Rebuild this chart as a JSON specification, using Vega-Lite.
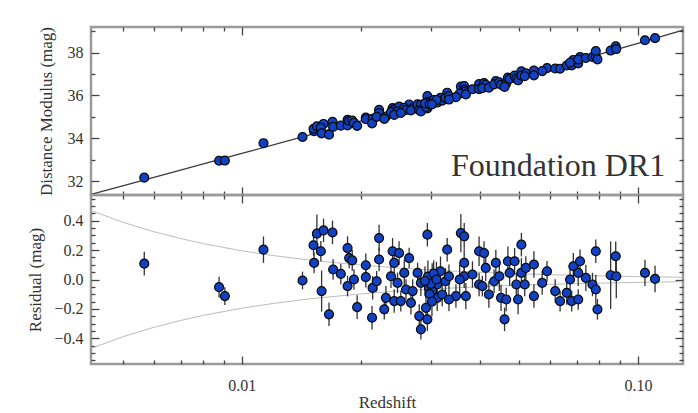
{
  "$schema": "https://vega.github.io/schema/vega-lite/v6.json",
  "padding": {"left": 25, "top": 25, "right": 14, "bottom": 2},
  "spacing": 0,
  "bounds": "flush",
  "datasets": {
    "sn": [
      {"z":0.00567,"mu":32.16,"r":0.108,"e":0.08},
      {"z":0.00876,"mu":32.95,"r":-0.052,"e":0.07},
      {"z":0.00906,"mu":32.96,"r":-0.113,"e":0.06},
      {"z":0.01134,"mu":33.77,"r":0.203,"e":0.09},
      {"z":0.01423,"mu":34.06,"r":-0.007,"e":0.06},
      {"z":0.01522,"mu":34.33,"r":0.113,"e":0.07},
      {"z":0.01517,"mu":34.44,"r":0.233,"e":0.07},
      {"z":0.01547,"mu":34.56,"r":0.312,"e":0.13},
      {"z":0.01608,"mu":34.67,"r":0.334,"e":0.08},
      {"z":0.01583,"mu":34.49,"r":0.192,"e":0.07},
      {"z":0.01694,"mu":34.77,"r":0.32,"e":0.08},
      {"z":0.0159,"mu":34.23,"r":-0.079,"e":0.14},
      {"z":0.0166,"mu":34.17,"r":-0.237,"e":0.08},
      {"z":0.017,"mu":34.53,"r":0.068,"e":0.07},
      {"z":0.01778,"mu":34.59,"r":0.038,"e":0.07},
      {"z":0.01849,"mu":34.60,"r":-0.045,"e":0.07},
      {"z":0.01849,"mu":34.86,"r":0.214,"e":0.08},
      {"z":0.01866,"mu":34.81,"r":0.146,"e":0.07},
      {"z":0.019,"mu":34.83,"r":0.13,"e":0.07},
      {"z":0.01919,"mu":34.72,"r":0.0,"e":0.07},
      {"z":0.01955,"mu":34.58,"r":-0.188,"e":0.08},
      {"z":0.02056,"mu":34.97,"r":0.097,"e":0.08},
      {"z":0.02056,"mu":34.89,"r":0.016,"e":0.07},
      {"z":0.02139,"mu":34.91,"r":-0.057,"e":0.08},
      {"z":0.02132,"mu":34.70,"r":-0.26,"e":0.08},
      {"z":0.02221,"mu":35.33,"r":0.282,"e":0.09},
      {"z":0.02221,"mu":35.18,"r":0.136,"e":0.08},
      {"z":0.0219,"mu":35.00,"r":-0.012,"e":0.07},
      {"z":0.02311,"mu":35.01,"r":-0.125,"e":0.08},
      {"z":0.02289,"mu":34.91,"r":-0.203,"e":0.07},
      {"z":0.02402,"mu":35.41,"r":0.192,"e":0.09},
      {"z":0.02425,"mu":35.35,"r":0.113,"e":0.07},
      {"z":0.02495,"mu":35.48,"r":0.18,"e":0.08},
      {"z":0.02645,"mu":35.58,"r":0.146,"e":0.07},
      {"z":0.0238,"mu":35.22,"r":0.022,"e":0.08},
      {"z":0.02472,"mu":35.26,"r":-0.023,"e":0.07},
      {"z":0.02425,"mu":35.09,"r":-0.147,"e":0.08},
      {"z":0.02571,"mu":35.42,"r":0.045,"e":0.09},
      {"z":0.02597,"mu":35.32,"r":-0.068,"e":0.07},
      {"z":0.02699,"mu":35.40,"r":-0.079,"e":0.08},
      {"z":0.0252,"mu":35.18,"r":-0.147,"e":0.07},
      {"z":0.02673,"mu":35.30,"r":-0.159,"e":0.08},
      {"z":0.02778,"mu":35.59,"r":0.045,"e":0.07},
      {"z":0.02832,"mu":35.56,"r":-0.023,"e":0.09},
      {"z":0.02805,"mu":35.31,"r":-0.249,"e":0.08},
      {"z":0.02941,"mu":35.40,"r":-0.271,"e":0.08},
      {"z":0.02832,"mu":35.25,"r":-0.339,"e":0.07},
      {"z":0.02917,"mu":35.46,"r":-0.193,"e":0.08},
      {"z":0.02941,"mu":35.97,"r":0.305,"e":0.08},
      {"z":0.03024,"mu":35.74,"r":0.011,"e":0.1},
      {"z":0.02968,"mu":35.63,"r":-0.057,"e":0.09},
      {"z":0.03114,"mu":35.76,"r":-0.034,"e":0.08},
      {"z":0.03174,"mu":35.89,"r":0.056,"e":0.1},
      {"z":0.03114,"mu":35.67,"r":-0.125,"e":0.09},
      {"z":0.03205,"mu":35.76,"r":-0.102,"e":0.08},
      {"z":0.033,"mu":36.13,"r":0.203,"e":0.08},
      {"z":0.03267,"mu":35.89,"r":-0.012,"e":0.09},
      {"z":0.03024,"mu":35.65,"r":-0.079,"e":0.1},
      {"z":0.0295,"mu":35.70,"r":0.02,"e":0.11},
      {"z":0.03,"mu":35.68,"r":-0.03,"e":0.1},
      {"z":0.0305,"mu":35.79,"r":0.04,"e":0.09},
      {"z":0.029,"mu":35.63,"r":-0.01,"e":0.1},
      {"z":0.031,"mu":35.79,"r":0.0,"e":0.12},
      {"z":0.0298,"mu":35.60,"r":-0.1,"e":0.1},
      {"z":0.0302,"mu":35.58,"r":-0.15,"e":0.1},
      {"z":0.03573,"mu":36.42,"r":0.316,"e":0.13},
      {"z":0.03643,"mu":36.44,"r":0.294,"e":0.09},
      {"z":0.03334,"mu":35.97,"r":0.022,"e":0.08},
      {"z":0.03643,"mu":36.26,"r":0.113,"e":0.09},
      {"z":0.03643,"mu":36.17,"r":0.022,"e":0.08},
      {"z":0.03548,"mu":36.09,"r":0.0,"e":0.1},
      {"z":0.03472,"mu":35.92,"r":-0.113,"e":0.08},
      {"z":0.03678,"mu":36.05,"r":-0.113,"e":0.09},
      {"z":0.03334,"mu":35.81,"r":-0.136,"e":0.08},
      {"z":0.03822,"mu":36.29,"r":0.034,"e":0.09},
      {"z":0.03972,"mu":36.53,"r":0.192,"e":0.1},
      {"z":0.04089,"mu":36.58,"r":0.18,"e":0.08},
      {"z":0.04129,"mu":36.50,"r":0.079,"e":0.09},
      {"z":0.03972,"mu":36.30,"r":-0.034,"e":0.08},
      {"z":0.04049,"mu":36.34,"r":-0.045,"e":0.07},
      {"z":0.04205,"mu":36.36,"r":-0.102,"e":0.09},
      {"z":0.04379,"mu":36.67,"r":0.113,"e":0.09},
      {"z":0.04335,"mu":36.52,"r":-0.012,"e":0.08},
      {"z":0.04468,"mu":36.62,"r":0.022,"e":0.1},
      {"z":0.04513,"mu":36.50,"r":-0.125,"e":0.09},
      {"z":0.04651,"mu":36.56,"r":-0.136,"e":0.08},
      {"z":0.04606,"mu":36.40,"r":-0.271,"e":0.08},
      {"z":0.04697,"mu":36.84,"r":0.124,"e":0.1},
      {"z":0.04745,"mu":36.78,"r":0.045,"e":0.09},
      {"z":0.04884,"mu":36.93,"r":0.124,"e":0.09},
      {"z":0.04933,"mu":36.79,"r":-0.034,"e":0.08},
      {"z":0.04983,"mu":36.71,"r":-0.136,"e":0.1},
      {"z":0.0508,"mu":37.13,"r":0.237,"e":0.08},
      {"z":0.0508,"mu":36.93,"r":0.045,"e":0.1},
      {"z":0.05213,"mu":37.03,"r":0.079,"e":0.08},
      {"z":0.05464,"mu":37.16,"r":0.102,"e":0.09},
      {"z":0.0518,"mu":36.90,"r":-0.034,"e":0.08},
      {"z":0.05464,"mu":36.94,"r":-0.113,"e":0.08},
      {"z":0.05897,"mu":37.28,"r":0.056,"e":0.07},
      {"z":0.05733,"mu":37.14,"r":-0.023,"e":0.08},
      {"z":0.06183,"mu":37.26,"r":-0.079,"e":0.08},
      {"z":0.06362,"mu":37.25,"r":-0.147,"e":0.07},
      {"z":0.06612,"mu":37.40,"r":-0.091,"e":0.08},
      {"z":0.06807,"mu":37.41,"r":-0.147,"e":0.07},
      {"z":0.07069,"mu":37.50,"r":-0.136,"e":0.07},
      {"z":0.06871,"mu":37.66,"r":0.09,"e":0.09},
      {"z":0.07144,"mu":37.79,"r":0.124,"e":0.08},
      {"z":0.06742,"mu":37.53,"r":0.0,"e":0.08},
      {"z":0.07069,"mu":37.68,"r":0.045,"e":0.09},
      {"z":0.0739,"mu":37.75,"r":0.011,"e":0.09},
      {"z":0.0768,"mu":37.80,"r":-0.034,"e":0.08},
      {"z":0.0783,"mu":37.81,"r":-0.068,"e":0.1},
      {"z":0.0783,"mu":38.07,"r":0.192,"e":0.08},
      {"z":0.07906,"mu":37.69,"r":-0.203,"e":0.07},
      {"z":0.08535,"mu":38.10,"r":0.029,"e":0.23},
      {"z":0.08791,"mu":38.30,"r":0.158,"e":0.1},
      {"z":0.0882,"mu":38.17,"r":0.022,"e":0.15},
      {"z":0.1042,"mu":38.58,"r":0.045,"e":0.09},
      {"z":0.1105,"mu":38.68,"r":0.004,"e":0.09}
    ],
    "model": [
      {"z":0.00416,"mu":31.379},
      {"z":0.005,"mu":31.780},
      {"z":0.007,"mu":32.514},
      {"z":0.01,"mu":33.293},
      {"z":0.015,"mu":34.182},
      {"z":0.02,"mu":34.815},
      {"z":0.03,"mu":35.712},
      {"z":0.05,"mu":36.854},
      {"z":0.07,"mu":37.617},
      {"z":0.1,"mu":38.439},
      {"z":0.13,"mu":39.055}
    ],
    "env": [
      {"z":0.00416,"s":0.469,"g":"up"},{"z":0.005,"s":0.390,"g":"up"},{"z":0.006,"s":0.325,"g":"up"},
      {"z":0.007,"s":0.279,"g":"up"},{"z":0.008,"s":0.244,"g":"up"},{"z":0.01,"s":0.195,"g":"up"},
      {"z":0.012,"s":0.163,"g":"up"},{"z":0.015,"s":0.130,"g":"up"},{"z":0.02,"s":0.098,"g":"up"},
      {"z":0.025,"s":0.078,"g":"up"},{"z":0.03,"s":0.065,"g":"up"},{"z":0.04,"s":0.049,"g":"up"},
      {"z":0.05,"s":0.039,"g":"up"},{"z":0.07,"s":0.028,"g":"up"},{"z":0.1,"s":0.0195,"g":"up"},
      {"z":0.13,"s":0.015,"g":"up"},
      {"z":0.00416,"s":-0.469,"g":"lo"},{"z":0.005,"s":-0.390,"g":"lo"},{"z":0.006,"s":-0.325,"g":"lo"},
      {"z":0.007,"s":-0.279,"g":"lo"},{"z":0.008,"s":-0.244,"g":"lo"},{"z":0.01,"s":-0.195,"g":"lo"},
      {"z":0.012,"s":-0.163,"g":"lo"},{"z":0.015,"s":-0.130,"g":"lo"},{"z":0.02,"s":-0.098,"g":"lo"},
      {"z":0.025,"s":-0.078,"g":"lo"},{"z":0.03,"s":-0.065,"g":"lo"},{"z":0.04,"s":-0.049,"g":"lo"},
      {"z":0.05,"s":-0.039,"g":"lo"},{"z":0.07,"s":-0.028,"g":"lo"},{"z":0.1,"s":-0.0195,"g":"lo"},
      {"z":0.13,"s":-0.015,"g":"lo"}
    ]
  },
  "vconcat": [
    {
      "width": 592,
      "height": 168,
      "resolve": {"axis": {"x": "independent", "y": "independent"}},
      "layer": [
        {
          "data": {"name": "model"},
          "mark": {"type": "line", "color": "#3a3a3a", "strokeWidth": 1.3},
          "encoding": {
            "x": {"field": "z", "type": "quantitative",
              "scale": {"type": "log", "domain": [0.00416, 0.13], "nice": false},
              "axis": {"orient": "bottom", "title": null, "labels": false,
                "values": [0.005,0.006,0.007,0.008,0.009,0.01,0.02,0.03,0.04,0.05,0.06,0.07,0.08,0.09,0.1],
                "tickSize": {"condition": {"test": "datum.value == 0.01 || datum.value == 0.1", "value": -8}, "value": -4}}},
            "y": {"field": "mu", "type": "quantitative",
              "scale": {"domain": [31.35, 39.2], "zero": false, "nice": false},
              "axis": {"orient": "left", "title": "Distance Modulus (mag)", "titlePadding": 12,
                "values": [32,33,34,35,36,37,38,39],
                "labelExpr": "datum.value % 2 == 0 ? datum.label : ''",
                "labelPadding": 16, "labelFont": "Liberation Serif", "titleFont": "Liberation Serif",
                "tickSize": {"condition": {"test": "datum.value % 2 == 0", "value": -8}, "value": -4}}}
          }
        },
        {
          "data": {"name": "sn"},
          "mark": {"type": "circle", "size": 80, "color": "#1142c4", "stroke": "#0a0a0a", "strokeWidth": 1.2, "opacity": 1},
          "encoding": {
            "x": {"field": "z", "type": "quantitative",
              "scale": {"type": "log", "domain": [0.00416, 0.13], "nice": false},
              "axis": {"orient": "top", "title": null, "labels": false,
                "values": [0.005,0.006,0.007,0.008,0.009,0.01,0.02,0.03,0.04,0.05,0.06,0.07,0.08,0.09,0.1],
                "tickSize": {"condition": {"test": "datum.value == 0.01 || datum.value == 0.1", "value": -8}, "value": -4}}},
            "y": {"field": "mu", "type": "quantitative",
              "scale": {"domain": [31.35, 39.2], "zero": false, "nice": false},
              "axis": {"orient": "right", "title": null, "labels": false,
                "values": [32,33,34,35,36,37,38,39],
                "tickSize": {"condition": {"test": "datum.value % 2 == 0", "value": -8}, "value": -4}}}
          }
        },
        {
          "data": {"values": [{"label": "Foundation DR1", "z": 0.1172, "mu": 32.23}]},
          "mark": {"type": "text", "align": "right", "baseline": "alphabetic", "fontSize": 32, "font": "Liberation Serif", "color": "#333"},
          "encoding": {
            "x": {"field": "z", "type": "quantitative", "scale": {"type": "log", "domain": [0.00416, 0.13], "nice": false}, "axis": null},
            "y": {"field": "mu", "type": "quantitative", "scale": {"domain": [31.35, 39.2], "zero": false, "nice": false}, "axis": null},
            "text": {"field": "label"}
          }
        }
      ]
    },
    {
      "width": 592,
      "height": 169,
      "resolve": {"axis": {"x": "independent", "y": "independent"}},
      "layer": [
        {
          "data": {"name": "env"},
          "mark": {"type": "line", "color": "#bdbdbd", "strokeWidth": 1},
          "encoding": {
            "x": {"field": "z", "type": "quantitative",
              "scale": {"type": "log", "domain": [0.00416, 0.13], "nice": false},
              "axis": {"orient": "bottom", "title": "Redshift", "titlePadding": 1, "format": ".2f",
                "labelExpr": "datum.value == 0.01 || datum.value == 0.1 ? datum.label : ''",
                "labelPadding": 21, "labelFont": "Liberation Serif", "titleFont": "Liberation Serif",
                "values": [0.005,0.006,0.007,0.008,0.009,0.01,0.02,0.03,0.04,0.05,0.06,0.07,0.08,0.09,0.1],
                "tickSize": {"condition": {"test": "datum.value == 0.01 || datum.value == 0.1", "value": -8}, "value": -4}}},
            "y": {"field": "s", "type": "quantitative",
              "scale": {"domain": [-0.575, 0.575], "zero": false, "nice": false},
              "axis": {"orient": "left", "title": "Residual (mag)", "titlePadding": 9, "format": ".1f",
                "values": [-0.55,-0.5,-0.45,-0.4,-0.35,-0.3,-0.25,-0.2,-0.15,-0.1,-0.05,0,0.05,0.1,0.15,0.2,0.25,0.3,0.35,0.4,0.45,0.5,0.55],
                "labelExpr": "abs(datum.value) < 0.001 || abs(abs(datum.value) - 0.2) < 0.001 || abs(abs(datum.value) - 0.4) < 0.001 ? datum.label : ''",
                "labelPadding": 16, "labelFont": "Liberation Serif", "titleFont": "Liberation Serif",
                "tickSize": {"condition": {"test": "abs(datum.value) < 0.001 || abs(abs(datum.value) - 0.2) < 0.001 || abs(abs(datum.value) - 0.4) < 0.001", "value": -8}, "value": -4}}},
            "detail": {"field": "g"}
          }
        },
        {
          "mark": {"type": "rule", "color": "#3a3a3a", "strokeWidth": 1.5},
          "encoding": {
            "y": {"datum": 0, "type": "quantitative", "scale": {"domain": [-0.575, 0.575], "zero": false, "nice": false}, "axis": null}
          }
        },
        {
          "data": {"name": "sn"},
          "mark": {"type": "errorbar", "color": "#333", "thickness": 1.3},
          "encoding": {
            "x": {"field": "z", "type": "quantitative", "scale": {"type": "log", "domain": [0.00416, 0.13], "nice": false}, "axis": null},
            "y": {"field": "r", "type": "quantitative", "scale": {"domain": [-0.575, 0.575], "zero": false, "nice": false}, "axis": null},
            "yError": {"field": "e"}
          }
        },
        {
          "data": {"name": "sn"},
          "mark": {"type": "circle", "size": 80, "color": "#1142c4", "stroke": "#0a0a0a", "strokeWidth": 1.2, "opacity": 1},
          "encoding": {
            "x": {"field": "z", "type": "quantitative",
              "scale": {"type": "log", "domain": [0.00416, 0.13], "nice": false},
              "axis": {"orient": "top", "title": null, "labels": false,
                "values": [0.005,0.006,0.007,0.008,0.009,0.01,0.02,0.03,0.04,0.05,0.06,0.07,0.08,0.09,0.1],
                "tickSize": {"condition": {"test": "datum.value == 0.01 || datum.value == 0.1", "value": -8}, "value": -4}}},
            "y": {"field": "r", "type": "quantitative",
              "scale": {"domain": [-0.575, 0.575], "zero": false, "nice": false},
              "axis": {"orient": "right", "title": null, "labels": false,
                "values": [-0.55,-0.5,-0.45,-0.4,-0.35,-0.3,-0.25,-0.2,-0.15,-0.1,-0.05,0,0.05,0.1,0.15,0.2,0.25,0.3,0.35,0.4,0.45,0.5,0.55],
                "tickSize": {"condition": {"test": "abs(datum.value) < 0.001 || abs(abs(datum.value) - 0.2) < 0.001 || abs(abs(datum.value) - 0.4) < 0.001", "value": -8}, "value": -4}}}
          }
        }
      ]
    }
  ],
  "config": {
    "font": "Liberation Serif",
    "view": {"stroke": "#9a9a9a", "strokeWidth": 2.5},
    "style": {"guide-label": {"font": "Liberation Serif"}, "guide-title": {"font": "Liberation Serif"}},
    "axis": {"domain": false, "grid": false, "tickColor": "#444", "tickWidth": 1.3,
      "labelFont": "Liberation Serif", "labelFontSize": 16, "labelColor": "#333",
      "titleFont": "Liberation Serif", "titleFontSize": 17, "titleFontWeight": "normal", "titleColor": "#333"}
  }
}
